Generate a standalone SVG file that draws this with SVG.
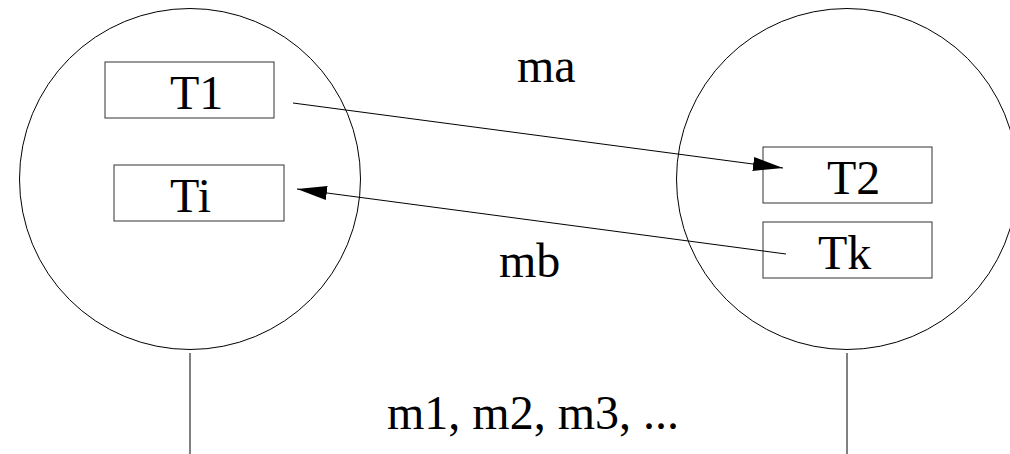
<svg xmlns="http://www.w3.org/2000/svg" width="1010" height="454" viewBox="0 0 1010 454">
<style>
.c{fill:none;stroke:#000;stroke-width:1}
.b{fill:#fff;stroke:#333;stroke-width:1}
.t{font-family:"Liberation Serif","Times New Roman",serif;font-size:48px;fill:#000}
.l{stroke:#000;stroke-width:1;fill:none}
</style>
<defs>
<marker id="ah" markerUnits="userSpaceOnUse" markerWidth="31" markerHeight="15" refX="30" refY="7" orient="auto">
<path d="M0,0 L30,7 L0,14 z" fill="#000"/>
</marker>
</defs>
<rect width="1010" height="454" fill="#fff"/>
<g id="site-left">
<circle class="c" cx="190" cy="179" r="170.5"/>
<line class="l" x1="190" y1="353" x2="190" y2="454"/>
</g>
<g id="site-right">
<circle class="c" cx="847" cy="179" r="170.5"/>
<line class="l" x1="847" y1="353" x2="847" y2="454"/>
</g>
<g id="T1">
<rect class="b" x="105" y="62" width="169" height="56"/>
<text class="t" x="170" y="109">T1</text>
</g>
<g id="Ti">
<rect class="b" x="114" y="165" width="170" height="56"/>
<text class="t" x="170" y="212">Ti</text>
</g>
<g id="T2">
<rect class="b" x="763" y="147" width="169" height="56"/>
<text class="t" x="827" y="194">T2</text>
</g>
<g id="Tk">
<rect class="b" x="763" y="222" width="169" height="56"/>
<text class="t" x="818" y="269">Tk</text>
</g>
<g id="connectors">
<line class="l" x1="293" y1="103" x2="783" y2="168" marker-end="url(#ah)"/>
<line class="l" x1="786" y1="254" x2="297" y2="189" marker-end="url(#ah)"/>
</g>
<g id="labels">
<text class="t" x="517" y="82">ma</text>
<text class="t" x="499" y="277">mb</text>
<text class="t" x="387" y="429">m1, m2, m3, ...</text>
</g>
</svg>
